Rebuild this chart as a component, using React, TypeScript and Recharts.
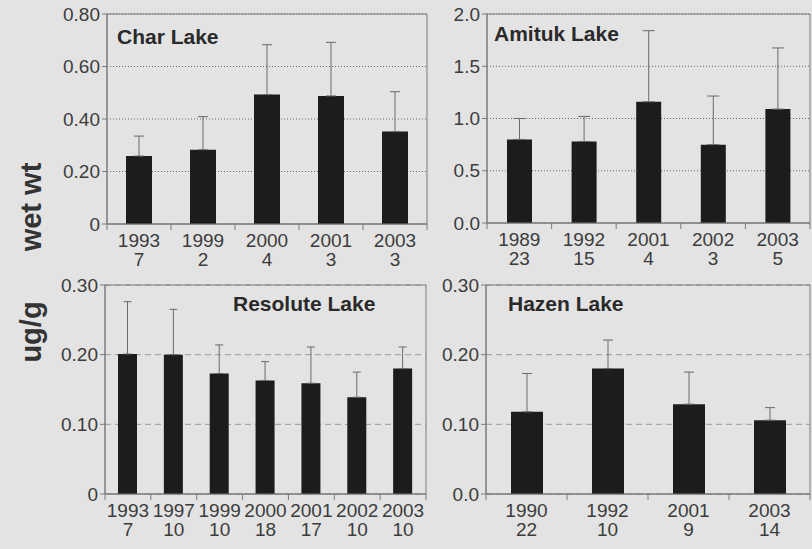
import React from 'react';
import { BarChart, Bar, XAxis, YAxis, CartesianGrid, ErrorBar, ReferenceArea } from 'recharts';

// Char Lake
const charYears = ['1993', '1999', '2000', '2001', '2003'];
const charN = ['7', '2', '4', '3', '3'];
const charMean = [0.259, 0.283, 0.493, 0.488, 0.352];
const charErr = [0.076, 0.126, 0.19, 0.204, 0.152];
const charTicks = [0, 0.2, 0.4, 0.6, 0.8];
const charTickLabels = ['0', '0.20', '0.40', '0.60', '0.80'];

// Amituk Lake
const amitukYears = ['1989', '1992', '2001', '2002', '2003'];
const amitukN = ['23', '15', '4', '3', '5'];
const amitukMean = [0.8, 0.78, 1.16, 0.75, 1.09];
const amitukErr = [0.2, 0.24, 0.68, 0.465, 0.585];
const amitukTicks = [0, 0.5, 1, 1.5, 2];
const amitukTickLabels = ['0.0', '0.5', '1.0', '1.5', '2.0'];

// Resolute Lake
const resoluteYears = ['1993', '1997', '1999', '2000', '2001', '2002', '2003'];
const resoluteN = ['7', '10', '10', '18', '17', '10', '10'];
const resoluteMean = [0.201, 0.2, 0.173, 0.163, 0.159, 0.139, 0.18];
const resoluteErr = [0.075, 0.065, 0.041, 0.027, 0.052, 0.036, 0.031];
const resoluteTicks = [0, 0.1, 0.2, 0.3];
const resoluteTickLabels = ['0', '0.10', '0.20', '0.30'];

// Hazen Lake
const hazenYears = ['1990', '1992', '2001', '2003'];
const hazenN = ['22', '10', '9', '14'];
const hazenMean = [0.118, 0.18, 0.129, 0.106];
const hazenErr = [0.055, 0.041, 0.046, 0.018];
const hazenTicks = [0, 0.1, 0.2, 0.3];
const hazenTickLabels = ['0.0', '0.10', '0.20', '0.30'];

const FONT = '"Liberation Sans", Arial, Helvetica, sans-serif';
const BG = '#e3e3e3';
const BAR = '#1c1c1c';
const AXIS = '#7a7a7a';
const TEXT = '#3c3c3c';
const ERR = '#6a6a6a';

type PanelProps = {
  years: string[];
  ns: string[];
  means: number[];
  errs: number[];
  ticks: number[];
  tickLabels: string[];
  left: number;
  top: number;
  width: number;
  height: number;
  plotLeft: number;
  plotRight: number;
  plotTop: number;
  plotBottom: number;
  barSize: number;
  cap: number;
  gridDash: string;
  gridColor: string;
};

const X_AXIS_H = 40;

function Panel(p: PanelProps) {
  const data = p.years.map((year, i) => ({
    year,
    mean: p.means[i],
    err: [0, p.errs[i]],
  }));
  const band = (p.plotRight - p.plotLeft) / p.years.length;
  const yMax = p.ticks[p.ticks.length - 1];

  const renderTick = (props: any) => {
    const { x, y, payload } = props;
    const i = p.years.indexOf(payload.value);
    const last = i === p.years.length - 1;
    return (
      <g>
        <line x1={x - band / 2} x2={x - band / 2} y1={y} y2={y + 6} stroke={AXIS} />
        {last && <line x1={x + band / 2} x2={x + band / 2} y1={y} y2={y + 6} stroke={AXIS} />}
        <text x={x} y={y} textAnchor="middle" fontSize={19} fill={TEXT} fontFamily={FONT}>
          <tspan x={x} dy={23}>{payload.value}</tspan>
          <tspan x={x} dy={19}>{p.ns[i]}</tspan>
        </text>
      </g>
    );
  };

  return (
    <div style={{ position: 'absolute', left: p.left, top: p.top, width: p.width, height: p.height }}>
      <BarChart
        width={p.width}
        height={p.height}
        data={data}
        margin={{
          top: p.plotTop - p.top,
          right: p.left + p.width - p.plotRight,
          bottom: p.top + p.height - p.plotBottom - X_AXIS_H,
          left: 0,
        }}
      >
        <CartesianGrid horizontal vertical={false} stroke={p.gridColor} strokeDasharray={p.gridDash} />
        <ReferenceArea y1={0} y2={yMax} fill="none" stroke={AXIS} strokeWidth={1} ifOverflow="visible" />
        <XAxis
          dataKey="year"
          type="category"
          height={X_AXIS_H}
          tickLine={false}
          tickSize={0}
          tickMargin={0}
          axisLine={{ stroke: AXIS }}
          tick={renderTick}
          interval={0}
        />
        <YAxis
          type="number"
          domain={[0, yMax]}
          ticks={p.ticks}
          width={p.plotLeft - p.left}
          tickSize={5}
          tickMargin={2}
          axisLine={{ stroke: AXIS }}
          tickLine={{ stroke: AXIS }}
          tick={{ fontSize: 19, fill: TEXT, fontFamily: FONT }}
          tickFormatter={(v: number) => p.tickLabels[p.ticks.indexOf(v)]}
          interval={0}
        />
        <Bar dataKey="mean" fill={BAR} barSize={p.barSize} isAnimationActive={false}>
          <ErrorBar dataKey="err" direction="y" width={p.cap} stroke={ERR} strokeWidth={1} />
        </Bar>
      </BarChart>
    </div>
  );
}

export default function App() {
  const titleStyle = { fontSize: 21, fontWeight: 700, fill: '#2a2a2a', fontFamily: FONT };
  return (
    <div style={{ position: 'absolute', left: 0, top: 0, width: 812, height: 549, background: BG, overflow: 'hidden', fontFamily: FONT }}>
      <Panel
        years={charYears} ns={charN} means={charMean} errs={charErr}
        ticks={charTicks} tickLabels={charTickLabels}
        left={0} top={0} width={440} height={275}
        plotLeft={107} plotRight={427} plotTop={14} plotBottom={224}
        barSize={26} cap={5} gridDash="1 2" gridColor="#666"
      />
      <Panel
        years={amitukYears} ns={amitukN} means={amitukMean} errs={amitukErr}
        ticks={amitukTicks} tickLabels={amitukTickLabels}
        left={440} top={0} width={372} height={275}
        plotLeft={487} plotRight={810} plotTop={14} plotBottom={223}
        barSize={25} cap={6} gridDash="1 2" gridColor="#666"
      />
      <Panel
        years={resoluteYears} ns={resoluteN} means={resoluteMean} errs={resoluteErr}
        ticks={resoluteTicks} tickLabels={resoluteTickLabels}
        left={0} top={275} width={440} height={274}
        plotLeft={105} plotRight={426} plotTop={285} plotBottom={494}
        barSize={19} cap={4} gridDash="6 4" gridColor="#9a9a9a"
      />
      <Panel
        years={hazenYears} ns={hazenN} means={hazenMean} errs={hazenErr}
        ticks={hazenTicks} tickLabels={hazenTickLabels}
        left={440} top={275} width={372} height={274}
        plotLeft={486} plotRight={810} plotTop={285} plotBottom={494}
        barSize={32} cap={5} gridDash="6 4" gridColor="#9a9a9a"
      />
      <svg width={812} height={549} style={{ position: 'absolute', left: 0, top: 0, pointerEvents: 'none' }}>
        <text x={117} y={44} {...titleStyle}>Char Lake</text>
        <text x={494} y={41} {...titleStyle}>Amituk Lake</text>
        <text x={233} y={311} {...titleStyle}>Resolute Lake</text>
        <text x={508} y={311} {...titleStyle}>Hazen Lake</text>
        <g transform="translate(41, 262) rotate(-90)">
          <text x={-70} y={0} textAnchor="middle" fontSize={29} fontWeight={700} fill="#333" fontFamily={FONT}>ug/g</text>
          <text x={55} y={0} textAnchor="middle" fontSize={29} fontWeight={700} fill="#333" fontFamily={FONT}>wet wt</text>
        </g>
      </svg>
    </div>
  );
}
